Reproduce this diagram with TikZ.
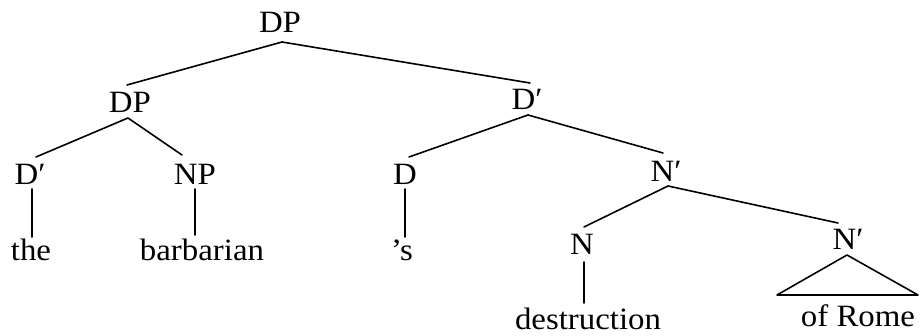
\documentclass[tikz,border=0pt]{standalone}
\usepackage{fontspec}
\setmainfont[FakeStretch=1.06]{Liberation Serif}
\begin{document}
\begin{tikzpicture}[x=1pt,y=1pt,
  lbl/.style={inner sep=0pt, anchor=base, font=\fontsize{31}{37}\selectfont},
  branch/.style={line width=1.6pt, line cap=round}]
\useasboundingbox (0,0) rectangle (920,336);
% category labels
\node[lbl] (dp0) at (280,303) {DP};
\node[lbl] (dp1) at (130,223) {DP};
\node[lbl] (db2) at (527,226) {D′};
\node[lbl] (db1) at (30,151) {D′};
\node[lbl] (np)  at (195,151) {NP};
\node[lbl] (dd)  at (405,151) {D};
\node[lbl] (nb1) at (666,154) {N′};
\node[lbl] (n)   at (582,81) {N};
\node[lbl] (nb2) at (848,86) {N′};
% terminal words
\node[lbl] (the)  at (31,75) {the};
\node[lbl] (barb) at (202,75) {barbarian};
\node[lbl] (poss) at (402,75) {’s};
\node[lbl] (dest) at (588,6) {destruction};
\node[lbl] (rome) at (858,9) {of Rome};
% branches
\draw[branch] ([shift={(2,-9)}]dp0.base) -- ([shift={(-3,28)}]dp1.base);
\draw[branch] ([shift={(2,-9)}]dp0.base) -- ([shift={(3,27)}]db2.base);
\draw[branch] ([shift={(-2,-5)}]dp1.base) -- ([shift={(6,28)}]db1.base);
\draw[branch] ([shift={(-2,-5)}]dp1.base) -- ([shift={(-13,30)}]np.base);
\draw[branch] ([shift={(2,-4)}]db1.base) -- ([shift={(1,24)}]the.base);
\draw[branch] ([shift={(0,-4)}]np.base) -- ([shift={(-7,26)}]barb.base);
\draw[branch] ([shift={(1,-5)}]db2.base) -- ([shift={(4,28)}]dd.base);
\draw[branch] ([shift={(1,-5)}]db2.base) -- ([shift={(-3,29)}]nb1.base);
\draw[branch] ([shift={(0,-4)}]dd.base) -- ([shift={(3,24)}]poss.base);
\draw[branch] ([shift={(2,-4)}]nb1.base) -- ([shift={(2,28)}]n.base);
\draw[branch] ([shift={(2,-4)}]nb1.base) -- ([shift={(-10,27)}]nb2.base);
\draw[branch] ([shift={(2,-7)}]n.base) -- ([shift={(-4,27)}]dest.base);
% triangle over the unanalysed phrase
\draw[branch, line join=round] ([shift={(-1,-5)}]nb2.base) -- ([shift={(-81,32)}]rome.base) -- ([shift={(60,32)}]rome.base) -- cycle;
\end{tikzpicture}
\end{document}
